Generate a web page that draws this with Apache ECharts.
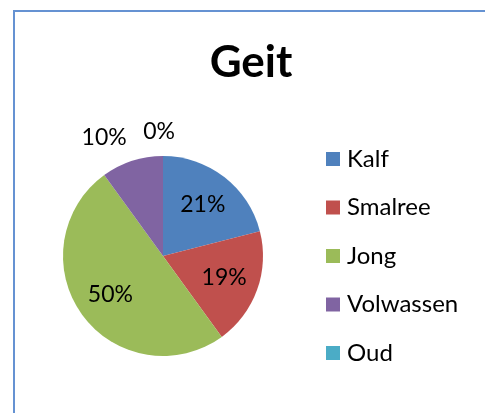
<!DOCTYPE html>
<html>
<head>
<meta charset="utf-8">
<script src="https://cdn.jsdelivr.net/npm/echarts@6/dist/echarts.min.js"></script>
<style>
html,body{margin:0;padding:0;background:#fff;}
#chart{width:485px;height:413px;}
</style>
</head>
<body>
<div id="chart"></div>
<script>
const titleText = 'Geit';
const categories = ['Kalf', 'Smalree', 'Jong', 'Volwassen', 'Oud'];
const values = [21, 19, 50, 10, 0];
const colors = ['#4F81BD', '#C0504D', '#9BBB59', '#8064A2', '#4BACC6'];
const labelPositions = ['inside', 'inside', 'inside', 'outside', 'outside'];
const labelShift = [0, 0, 0, -7, -17];

const FONT = 'Lato, "Open Sans", sans-serif';
const chart = echarts.init(document.getElementById('chart'));

const pieData = categories.map((name, i) => ({
  name: name,
  value: values[i],
  itemStyle: { color: colors[i] }
}));

const labelData = categories.map((name, i) => ({
  name: name,
  value: values[i],
  label: { position: labelPositions[i] },
  labelLine: { show: false, length: 24, length2: labelShift[i] }
}));

chart.setOption({
  animation: false,
  backgroundColor: '#fff',
  graphic: [{
    type: 'rect',
    shape: { x: 14, y: 11, width: 520, height: 440 },
    style: { fill: 'none', stroke: '#6592d2', lineWidth: 2 },
    silent: true
  }],
  title: {
    text: titleText,
    left: 246,
    textAlign: 'center',
    top: 36,
    textStyle: { fontFamily: FONT, fontSize: 44, fontWeight: 'bold', color: '#000' }
  },
  legend: {
    orient: 'vertical',
    left: 326,
    top: 147,
    padding: 0,
    icon: 'rect',
    itemWidth: 14,
    itemHeight: 14,
    itemGap: 24.5,
    data: categories.map((name, i) => ({ name: name, itemStyle: { color: colors[i] } })),
    textStyle: { fontFamily: FONT, fontSize: 24, lineHeight: 24, color: '#000', padding: [0, 0, 0, 2] }
  },
  series: [{
    type: 'pie',
    center: [163, 256],
    radius: [0, 100],
    startAngle: 90,
    clockwise: true,
    avoidLabelOverlap: false,
    silent: true,
    label: { show: false },
    labelLine: { show: false },
    data: pieData
  }, {
    type: 'pie',
    center: [163, 256],
    radius: [24, 100],
    startAngle: 90,
    clockwise: true,
    avoidLabelOverlap: false,
    silent: true,
    itemStyle: { color: 'rgba(0,0,0,0)' },
    emphasis: { disabled: true },
    label: {
      show: true,
      formatter: '{d}%',
      fontFamily: FONT,
      fontSize: 23,
      color: '#000'
    },
    data: labelData
  }]
});
</script>
</body>
</html>
